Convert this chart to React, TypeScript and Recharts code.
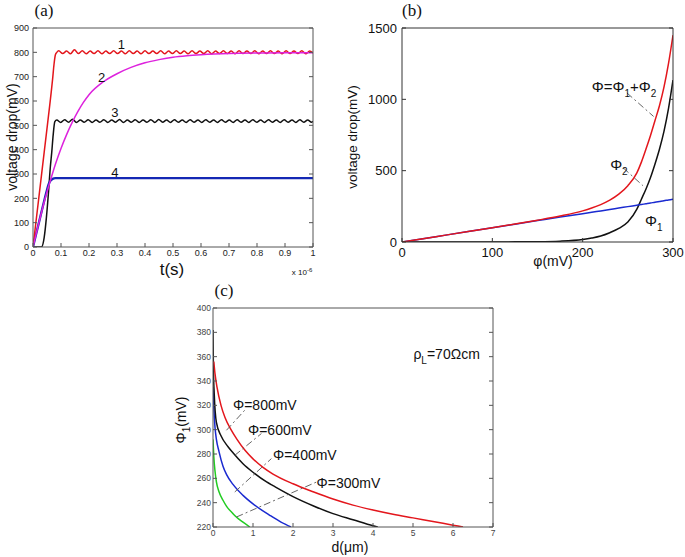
import React from 'react';
import { LineChart, Line, XAxis, YAxis, ReferenceLine, ReferenceDot } from 'recharts';

const FONT = '"Liberation Sans", Arial, sans-serif';
const SERIF = '"Liberation Serif", "Times New Roman", serif';

// ---------- Panel (a) ----------
const aTicksX = [0, 0.1, 0.2, 0.3, 0.4, 0.5, 0.6, 0.7, 0.8, 0.9, 1];
const aTicksY = [0, 100, 200, 300, 400, 500, 600, 700, 800, 900];

const tRed = [0, 0.02, 0.04, 0.06, 0.07, 0.075, 0.08, 0.085,
  0.092, 0.106, 0.12, 0.134, 0.148, 0.162, 0.176, 0.19, 0.204, 0.218,
  0.232, 0.246, 0.26, 0.274, 0.288, 0.302, 0.316, 0.33, 0.344, 0.358,
  0.372, 0.386, 0.4, 0.414, 0.428, 0.442, 0.456, 0.47, 0.484, 0.498,
  0.512, 0.526, 0.54, 0.554, 0.568, 0.582, 0.596, 0.61, 0.624, 0.638,
  0.652, 0.666, 0.68, 0.694, 0.708, 0.722, 0.736, 0.75, 0.764, 0.778,
  0.792, 0.806, 0.82, 0.834, 0.848, 0.862, 0.876, 0.89, 0.904, 0.918,
  0.932, 0.946, 0.96, 0.974, 0.988, 1.0];
const vRed = [0, 195, 390, 585, 690, 750, 790, 800,
  806, 795, 805, 794, 811, 795, 806, 794, 805, 795,
  806, 794, 805, 795, 806, 795, 805, 794, 806, 795,
  805, 794, 806, 795, 805, 795, 806, 794, 805, 795,
  806, 795, 805, 794, 806, 795, 805, 795, 806, 794,
  805, 795, 806, 795, 805, 794, 806, 795, 805, 795,
  806, 794, 805, 795, 806, 795, 805, 794, 806, 795,
  805, 795, 806, 794, 805, 798];

const tMag = [0, 0.02, 0.04, 0.06, 0.08, 0.1, 0.12, 0.14, 0.16, 0.18, 0.2, 0.25, 0.3, 0.35, 0.4, 0.45, 0.5, 0.55, 0.6, 0.7, 0.8, 0.9, 1.0];
const vMag = [0, 95, 185, 265, 340, 405, 462, 512, 556, 594, 626, 678, 712, 738, 757, 770, 780, 786, 790, 795, 797, 798, 798];

const tBlk = [0, 0.03, 0.04, 0.048, 0.055, 0.062, 0.067, 0.072, 0.078, 0.085,
  0.099, 0.113, 0.127, 0.141, 0.155, 0.169, 0.183, 0.197, 0.211, 0.225,
  0.239, 0.253, 0.267, 0.281, 0.295, 0.309, 0.323, 0.337, 0.351, 0.365,
  0.379, 0.393, 0.407, 0.421, 0.435, 0.449, 0.463, 0.477, 0.491, 0.505,
  0.519, 0.533, 0.547, 0.561, 0.575, 0.589, 0.603, 0.617, 0.631, 0.645,
  0.659, 0.673, 0.687, 0.701, 0.715, 0.729, 0.743, 0.757, 0.771, 0.785,
  0.799, 0.813, 0.827, 0.841, 0.855, 0.869, 0.883, 0.897, 0.911, 0.925,
  0.939, 0.953, 0.967, 0.981, 0.995, 1.0];
const vBlk = [0, 0, 40, 123, 220, 330, 390, 460, 515, 522,
  512, 523, 513, 525, 512, 522, 513, 523, 512, 522,
  513, 523, 512, 522, 513, 524, 512, 522, 513, 523,
  512, 522, 513, 523, 512, 524, 513, 522, 512, 523,
  513, 522, 512, 523, 513, 522, 512, 523, 513, 522,
  512, 523, 513, 522, 512, 523, 513, 522, 512, 523,
  513, 522, 512, 523, 513, 522, 512, 523, 513, 522,
  512, 523, 513, 522, 513, 517];

const tBlue = [0, 0.02, 0.04, 0.05, 0.055, 0.06, 0.065, 0.07, 0.08, 1.0];
const vBlue = [0, 95, 190, 235, 255, 268, 276, 280, 283, 283];

// ---------- Panel (b) ----------
const bTicksX = [0, 100, 200, 300];
const bTicksY = [0, 500, 1000, 1500];
const phi = [0, 25, 50, 75, 100, 125, 150, 175, 200, 210, 220, 230, 240, 250, 260, 265, 270, 275, 280, 285, 290, 295, 300];
const phi1 = [0, 0, 0, 0, 0, 1, 2, 6, 18, 28, 42, 65, 95, 140, 230, 300, 370, 450, 545, 650, 775, 935, 1135];
const phi2 = [0, 25, 50, 75, 100, 125, 150, 175, 198, 208, 218, 228, 238, 248, 258, 263, 268, 273, 279, 284, 289, 295, 300];
const phiSum = [0, 25, 50, 75, 100, 126, 153, 182, 218, 238, 262, 293, 335, 395, 485, 560, 650, 745, 850, 955, 1085, 1250, 1450];

// ---------- Panel (c) ----------
const cTicksX = [0, 1, 2, 3, 4, 5, 6, 7];
const cTicksY = [220, 240, 260, 280, 300, 320, 340, 360, 380, 400];
const dRed = [0.02, 0.05, 0.1, 0.2, 0.3, 0.45, 0.6, 0.8, 1.0, 1.25, 1.5, 2.0, 2.5, 3.0, 3.5, 4.0, 4.5, 5.0, 5.5, 6.0, 6.25];
const vC800 = [356, 346, 335, 320, 310, 300, 292, 283, 276, 269, 263.5, 255.5, 249, 243, 238, 234, 230.5, 227.5, 224.5, 221.5, 220];
const dBlack = [0, 0.01, 0.03, 0.085, 0.2, 0.376, 0.5, 0.75, 1.0, 1.34, 1.5, 2.0, 2.5, 3.0, 3.5, 4.0, 4.12];
const vC600 = [382, 350, 330, 306, 295, 286, 281, 272, 265, 257, 254, 245, 237.5, 231, 226, 221, 220];
const dBlue = [0, 0.02, 0.05, 0.085, 0.15, 0.25, 0.34, 0.5, 0.75, 1.0, 1.42, 1.7, 1.95];
const vC400 = [335, 318, 302, 292, 282, 270, 263, 255, 246, 239, 229.6, 224, 220];
const dGreen = [0, 0.02, 0.05, 0.085, 0.15, 0.25, 0.34, 0.5, 0.59, 0.75, 0.92];
const vC300 = [292, 278, 266, 257, 249, 242, 237, 231, 228, 224, 220];

const zip = (xs: number[], ys: number[]) => xs.map((x, i) => ({ x, y: ys[i] }));

const Txt = ({ x, y, size, rot, family, children }: any) => (
  <div
    style={{
      position: 'absolute',
      left: x,
      top: y,
      transform: `translate(-50%, -50%)${rot ? ' rotate(-90deg)' : ''}`,
      fontSize: size,
      fontFamily: family || FONT,
      lineHeight: 1,
      whiteSpace: 'nowrap',
      color: '#111',
    }}
  >
    {children}
  </div>
);

const label = (content: React.ReactNode, size: number, anchor: string = 'start') => (p: any) => (
  <text x={p.cx} y={p.cy} fontSize={size} fontFamily={FONT} fill="#111" textAnchor={anchor as any}>
    {content}
  </text>
);

const DASH = '7 3 2 3';

export default function App() {
  const axA = { stroke: '#555' };
  const tickA = { fill: '#222', fontSize: 9, fontFamily: FONT };
  const axB = { stroke: '#333' };
  const tickB = { fill: '#111', fontSize: 13, fontFamily: FONT };
  const axC = { stroke: '#555' };
  const tickC = { fill: '#444', fontSize: 8.5, fontFamily: FONT };
  const blank = () => '';

  return (
    <div style={{ position: 'absolute', left: 0, top: 0, width: 685, height: 557, background: '#fff', overflow: 'hidden' }}>
      {/* Panel (a) */}
      <div style={{ position: 'absolute', left: 0, top: 0 }}>
        <LineChart width={340} height={280} margin={{ top: 27, right: 26, bottom: 0, left: 0 }}>
          <XAxis dataKey="x" type="number" domain={[0, 1]} ticks={aTicksX} height={33} tickSize={-4} tickMargin={7}
            axisLine={axA} tickLine={axA} tick={tickA} allowDataOverflow interval={0} />
          <XAxis xAxisId="top" orientation="top" type="number" domain={[0, 1]} ticks={aTicksX} height={1} tickSize={-4}
            tickFormatter={blank} axisLine={axA} tickLine={axA} allowDataOverflow interval={0} />
          <YAxis type="number" domain={[0, 900]} ticks={aTicksY} width={33} tickSize={-4} tickMargin={8}
            axisLine={axA} tickLine={axA} tick={tickA} allowDataOverflow interval={0} />
          <YAxis yAxisId="r" orientation="right" type="number" domain={[0, 900]} ticks={aTicksY} width={1} tickSize={-4}
            tickFormatter={blank} axisLine={axA} tickLine={axA} allowDataOverflow interval={0} />
          <Line data={zip(tBlk, vBlk)} dataKey="y" stroke="#111" strokeWidth={1.5} dot={false} type="monotone" isAnimationActive={false} />
          <Line data={zip(tBlue, vBlue)} dataKey="y" stroke="#1428b4" strokeWidth={2.3} dot={false} type="monotone" isAnimationActive={false} />
          <Line data={zip(tRed, vRed)} dataKey="y" stroke="#e3161c" strokeWidth={1.5} dot={false} type="monotone" isAnimationActive={false} />
          <Line data={zip(tMag, vMag)} dataKey="y" stroke="#dd22dd" strokeWidth={1.5} dot={false} type="monotone" isAnimationActive={false} />
          <ReferenceDot x={0.316} y={815} r={0} shape={label('1', 13, 'middle')} />
          <ReferenceDot x={0.245} y={678} r={0} shape={label('2', 13, 'middle')} />
          <ReferenceDot x={0.292} y={534} r={0} shape={label('3', 13, 'middle')} />
          <ReferenceDot x={0.292} y={289} r={0} shape={label('4', 13, 'middle')} />
        </LineChart>
      </div>
      <Txt x={44} y={10} size={17} family={SERIF}>(a)</Txt>
      <Txt x={12} y={137} size={14} rot>voltage drop(mV)</Txt>
      <Txt x={172} y={269} size={17}>t(s)</Txt>
      <Txt x={302} y={272} size={8}>x 10<sup style={{ fontSize: 6 }}>-6</sup></Txt>

      {/* Panel (b) */}
      <div style={{ position: 'absolute', left: 340, top: 0 }}>
        <LineChart width={345} height={280} margin={{ top: 27, right: 11, bottom: 0, left: 0 }}>
          <XAxis dataKey="x" type="number" domain={[0, 300]} ticks={bTicksX} height={38} tickSize={-4} tickMargin={10}
            axisLine={axB} tickLine={axB} tick={tickB} allowDataOverflow interval={0} />
          <XAxis xAxisId="top" orientation="top" type="number" domain={[0, 300]} ticks={bTicksX} height={1} tickSize={-4}
            tickFormatter={blank} axisLine={axB} tickLine={axB} allowDataOverflow interval={0} />
          <YAxis type="number" domain={[0, 1500]} ticks={bTicksY} width={62} tickSize={-4} tickMargin={9}
            axisLine={axB} tickLine={axB} tick={tickB} allowDataOverflow interval={0} />
          <YAxis yAxisId="r" orientation="right" type="number" domain={[0, 1500]} ticks={bTicksY} width={1} tickSize={-4}
            tickFormatter={blank} axisLine={axB} tickLine={axB} allowDataOverflow interval={0} />
          <Line data={zip(phi, phi1)} dataKey="y" stroke="#111" strokeWidth={1.5} dot={false} type="monotone" isAnimationActive={false} />
          <Line data={zip(phi, phi2)} dataKey="y" stroke="#1a2ad0" strokeWidth={1.5} dot={false} type="monotone" isAnimationActive={false} />
          <Line data={zip(phi, phiSum)} dataKey="y" stroke="#e3161c" strokeWidth={1.5} dot={false} type="monotone" isAnimationActive={false} />
          <ReferenceLine segment={[{ x: 249, y: 1045 }, { x: 278.5, y: 880 }]} stroke="#555" strokeDasharray={DASH} strokeWidth={0.9} />
          <ReferenceLine segment={[{ x: 245, y: 519 }, { x: 266.7, y: 395 }]} stroke="#555" strokeDasharray={DASH} strokeWidth={0.9} />
          <ReferenceDot x={210} y={1054} r={0} shape={label(
            <>
              Φ=Φ<tspan fontSize={10} dy={5}>1</tspan><tspan dy={-5}>+Φ</tspan><tspan fontSize={10} dy={5}>2</tspan>
            </>, 15)} />
          <ReferenceDot x={230.4} y={507} r={0} shape={label(
            <>
              Φ<tspan fontSize={10} dy={5}>2</tspan>
            </>, 15)} />
          <ReferenceDot x={269} y={114} r={0} shape={label(
            <>
              Φ<tspan fontSize={10} dy={5}>1</tspan>
            </>, 15)} />
        </LineChart>
      </div>
      <Txt x={412} y={10} size={17} family={SERIF}>(b)</Txt>
      <Txt x={353} y={137} size={13.5} rot>voltage drop(mV)</Txt>
      <Txt x={553} y={261} size={14}>φ(mV)</Txt>

      {/* Panel (c) */}
      <div style={{ position: 'absolute', left: 170, top: 280 }}>
        <LineChart width={340} height={277} margin={{ top: 27, right: 16, bottom: 0, left: 0 }}>
          <XAxis dataKey="x" type="number" domain={[0, 7]} ticks={cTicksX} height={30} tickSize={-4} tickMargin={7}
            axisLine={axC} tickLine={axC} tick={tickC} allowDataOverflow interval={0} />
          <XAxis xAxisId="top" orientation="top" type="number" domain={[0, 7]} ticks={cTicksX} height={1} tickSize={-4}
            tickFormatter={blank} axisLine={axC} tickLine={axC} allowDataOverflow interval={0} />
          <YAxis type="number" domain={[220, 400]} ticks={cTicksY} width={43} tickSize={-4} tickMargin={6}
            axisLine={axC} tickLine={axC} tick={tickC} allowDataOverflow interval={0} />
          <YAxis yAxisId="r" orientation="right" type="number" domain={[220, 400]} ticks={cTicksY} width={1} tickSize={-4}
            tickFormatter={blank} axisLine={axC} tickLine={axC} allowDataOverflow interval={0} />
          <Line data={zip(dGreen, vC300)} dataKey="y" stroke="#22cc22" strokeWidth={1.5} dot={false} type="monotone" isAnimationActive={false} />
          <Line data={zip(dBlue, vC400)} dataKey="y" stroke="#1a2ad0" strokeWidth={1.5} dot={false} type="monotone" isAnimationActive={false} />
          <Line data={zip(dBlack, vC600)} dataKey="y" stroke="#111" strokeWidth={1.5} dot={false} type="monotone" isAnimationActive={false} />
          <Line data={zip(dRed, vC800)} dataKey="y" stroke="#e3161c" strokeWidth={1.5} dot={false} type="monotone" isAnimationActive={false} />
          <ReferenceLine segment={[{ x: 0.336, y: 299.5 }, { x: 0.794, y: 316 }]} stroke="#555" strokeDasharray={DASH} strokeWidth={0.9} />
          <ReferenceLine segment={[{ x: 0.544, y: 278.9 }, { x: 1.21, y: 296.8 }]} stroke="#555" strokeDasharray={DASH} strokeWidth={0.9} />
          <ReferenceLine segment={[{ x: 0.544, y: 248.8 }, { x: 1.46, y: 276.2 }]} stroke="#555" strokeDasharray={DASH} strokeWidth={0.9} />
          <ReferenceLine segment={[{ x: 0.586, y: 228.2 }, { x: 2.59, y: 257 }]} stroke="#555" strokeDasharray={DASH} strokeWidth={0.9} />
          <ReferenceDot x={0.5} y={316.5} r={0} shape={label('Φ=800mV', 14)} />
          <ReferenceDot x={0.875} y={295.9} r={0} shape={label('Φ=600mV', 14)} />
          <ReferenceDot x={1.5} y={275.4} r={0} shape={label('Φ=400mV', 14)} />
          <ReferenceDot x={2.59} y={252.4} r={0} shape={label('Φ=300mV', 14)} />
          <ReferenceDot x={5.01} y={358.4} r={0} shape={label(
            <>
              ρ<tspan fontSize={10} dy={5}>L</tspan><tspan dy={-5}>=70Ωcm</tspan>
            </>, 14)} />
        </LineChart>
      </div>
      <Txt x={224} y={290} size={17} family={SERIF}>(c)</Txt>
      <Txt x={183} y={420} size={14} rot>Φ<sub style={{ fontSize: 10 }}>1</sub>(mV)</Txt>
      <Txt x={350} y={547} size={14}>d(μm)</Txt>
    </div>
  );
}
